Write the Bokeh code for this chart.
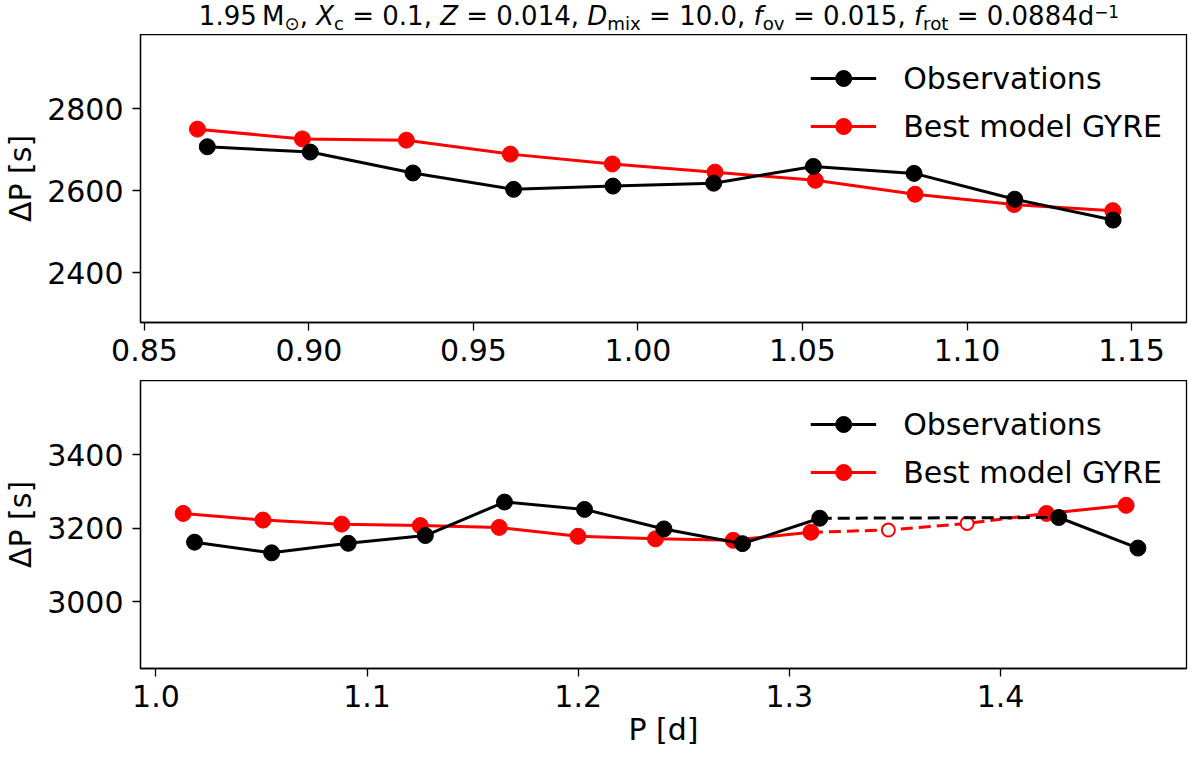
from bokeh.plotting import figure
from bokeh.models import Range1d, FixedTicker, NumeralTickFormatter, Legend, LegendItem, Div
from bokeh.layouts import column
from bokeh.embed import file_html
from bokeh.resources import INLINE
import numpy as np

# ---------------- data ----------------
# Top panel (first series)
top_obs_P = [0.8691, 0.9004, 0.9316, 0.9622, 0.9924, 1.0230, 1.0533, 1.0839, 1.1145, 1.1444]
top_obs_dP = [2707, 2694, 2643, 2603, 2611, 2618, 2659, 2642, 2579, 2528]
top_mod_P = [0.8661, 0.8980, 0.9296, 0.9612, 0.9922, 1.0234, 1.0539, 1.0842, 1.1143, 1.1443]
top_mod_dP = [2750, 2726, 2723, 2689, 2665, 2645, 2625, 2591, 2566, 2551]

# Bottom panel (second series)
bot_obs_P = [1.0183, 1.0548, 1.0911, 1.1276, 1.1651, 1.2030, 1.2406, 1.2778, 1.3144, 1.4276, 1.4651]
bot_obs_dP = [3162, 3133, 3159, 3180, 3271, 3251, 3198, 3158, 3227, 3229, 3146]
bot_obs_gap_after = 8          # dashed link from this observation to the next one
bot_mod_P = [1.0129, 1.0507, 1.0880, 1.1252, 1.1626, 1.1999, 1.2366, 1.2734, 1.3102,
             1.3469, 1.3842, 1.4218, 1.4595]
bot_mod_dP = [3240, 3222, 3211, 3207, 3202, 3178, 3171, 3167, 3189, 3195, 3213, 3240, 3262]
bot_mod_matched = [1, 1, 1, 1, 1, 1, 1, 1, 1, 0, 0, 1, 1]

top_xticks = [0.85, 0.90, 0.95, 1.00, 1.05, 1.10, 1.15]
top_yticks = [2400, 2600, 2800]
bot_xticks = [1.0, 1.1, 1.2, 1.3, 1.4]
bot_yticks = [3000, 3200, 3400]

RED = "#ff0000"
BLACK = "#000000"
FONT = "DejaVu Sans"
FS = "30px"

LEFT = 136
RIGHT = 2
FW = 1184 - LEFT - RIGHT
FH = 288
TITLE_H = 34


def style(p, xticks, yticks, xfmt, xlabel=None):
    p.outline_line_color = "black"
    p.outline_line_width = 1.3
    p.xgrid.visible = False
    p.ygrid.visible = False
    p.xaxis.ticker = FixedTicker(ticks=xticks)
    p.yaxis.ticker = FixedTicker(ticks=yticks)
    p.xaxis.formatter = NumeralTickFormatter(format=xfmt)
    for ax in (p.xaxis[0], p.yaxis[0]):
        ax.major_tick_out = 8
        ax.major_tick_in = 0
        ax.minor_tick_out = 0
        ax.minor_tick_in = 0
        ax.major_tick_line_width = 1.3
        ax.major_tick_line_color = "black"
        ax.axis_line_width = 1.3
        ax.axis_line_color = "black"
        ax.major_label_text_font = FONT
        ax.major_label_text_font_size = FS
        ax.major_label_text_color = "black"
        ax.axis_label_text_font = FONT
        ax.axis_label_text_font_size = FS
        ax.axis_label_text_font_style = "normal"
        ax.axis_label_text_color = "black"
    p.xaxis.major_label_standoff = 8
    p.yaxis.major_label_standoff = 9
    p.yaxis.axis_label = "ΔP [s]"
    p.yaxis.axis_label_standoff = 6
    if xlabel:
        p.xaxis.axis_label = xlabel
        p.xaxis.axis_label_standoff = 2


def make_legend(p, obs_r, mod_r):
    leg = Legend(items=[LegendItem(label="Observations", renderers=obs_r),
                        LegendItem(label="Best model GYRE", renderers=mod_r)],
                 location="top_right", border_line_alpha=0, background_fill_alpha=0,
                 label_text_font=FONT, label_text_font_size=FS, label_text_color="black",
                 glyph_width=66, glyph_height=40, label_height=40, spacing=8,
                 label_standoff=27, padding=9, margin=15)
    p.add_layout(leg)


# ---------------- top panel ----------------
p1 = figure(frame_width=FW, frame_height=FH,
            x_range=Range1d(0.8488, 1.1667), y_range=Range1d(2278, 2981),
            toolbar_location=None, output_backend="svg",
            min_border_left=LEFT, min_border_right=RIGHT, min_border_top=0, min_border_bottom=58)
style(p1, top_xticks, top_yticks, "0.00")

m_line = p1.line(top_mod_P, top_mod_dP, line_color=RED, line_width=3)
m_pts = p1.scatter(top_mod_P, top_mod_dP, marker="circle", size=16, fill_color=RED, line_color=RED)
o_line = p1.line(top_obs_P, top_obs_dP, line_color=BLACK, line_width=3)
o_pts = p1.scatter(top_obs_P, top_obs_dP, marker="circle", size=16, fill_color=BLACK, line_color=BLACK)
make_legend(p1, [o_line, o_pts], [m_line, m_pts])

# ---------------- bottom panel ----------------
p2 = figure(frame_width=FW, frame_height=FH,
            x_range=Range1d(0.9927, 1.4881), y_range=Range1d(2819, 3601),
            toolbar_location=None, output_backend="svg",
            min_border_left=LEFT, min_border_right=RIGHT, min_border_top=0, min_border_bottom=88)
style(p2, bot_xticks, bot_yticks, "0.0", xlabel="P [d]")

mP = np.array(bot_mod_P)
mD = np.array(bot_mod_dP)
matched = np.array(bot_mod_matched, dtype=bool)
idx = np.arange(len(mP))
unm = idx[~matched]
d0, d1 = unm.min() - 1, unm.max() + 1   # dashed stretch of the model

bm_line1 = p2.line(mP[:d0 + 1], mD[:d0 + 1], line_color=RED, line_width=3)
p2.line(mP[d0:d1 + 1], mD[d0:d1 + 1], line_color=RED, line_width=3, line_dash="12 6")
p2.line(mP[d1:], mD[d1:], line_color=RED, line_width=3)
bm_pts = p2.scatter(mP[matched], mD[matched], marker="circle", size=16, fill_color=RED, line_color=RED)
p2.scatter(mP[~matched], mD[~matched], marker="circle", size=13, fill_color="white",
           line_color=RED, line_width=2)

oP = np.array(bot_obs_P)
oD = np.array(bot_obs_dP)
g = bot_obs_gap_after
bo_line1 = p2.line(oP[:g + 1], oD[:g + 1], line_color=BLACK, line_width=3)
p2.line(oP[g:g + 2], oD[g:g + 2], line_color=BLACK, line_width=3, line_dash="12 6")
p2.line(oP[g + 1:], oD[g + 1:], line_color=BLACK, line_width=3)
bo_pts = p2.scatter(oP, oD, marker="circle", size=16, fill_color=BLACK, line_color=BLACK)
make_legend(p2, [bo_line1, bo_pts], [bm_line1, bm_pts])

# ---------------- title ----------------
sub = '<sub style="font-size:70%;line-height:0;vertical-align:-0.25em">'
sup = '<sup style="font-size:65%;line-height:0;vertical-align:0.4em">'
title_html = (
    f'<div style="width:{FW}px;margin-left:{LEFT}px;padding-top:1px;text-align:center;'
    'font-family:\'DejaVu Sans\';font-size:26px;line-height:30px;white-space:nowrap;color:black;">'
    f'1.95&#8201;M{sub}⊙</sub>, <i>X</i>{sub}c</sub> = 0.1, <i>Z</i> = 0.014, '
    f'<i>D</i>{sub}mix</sub> = 10.0, <i>f</i>{sub}ov</sub> = 0.015, '
    f'<i>f</i>{sub}rot</sub> = 0.0884d{sup}−1</sup></div>'
)
title = Div(text=title_html, width=1184, height=TITLE_H, margin=0)

layout = column(title, p1, p2, spacing=0)
open("out.html", "w").write(file_html(layout, INLINE))
